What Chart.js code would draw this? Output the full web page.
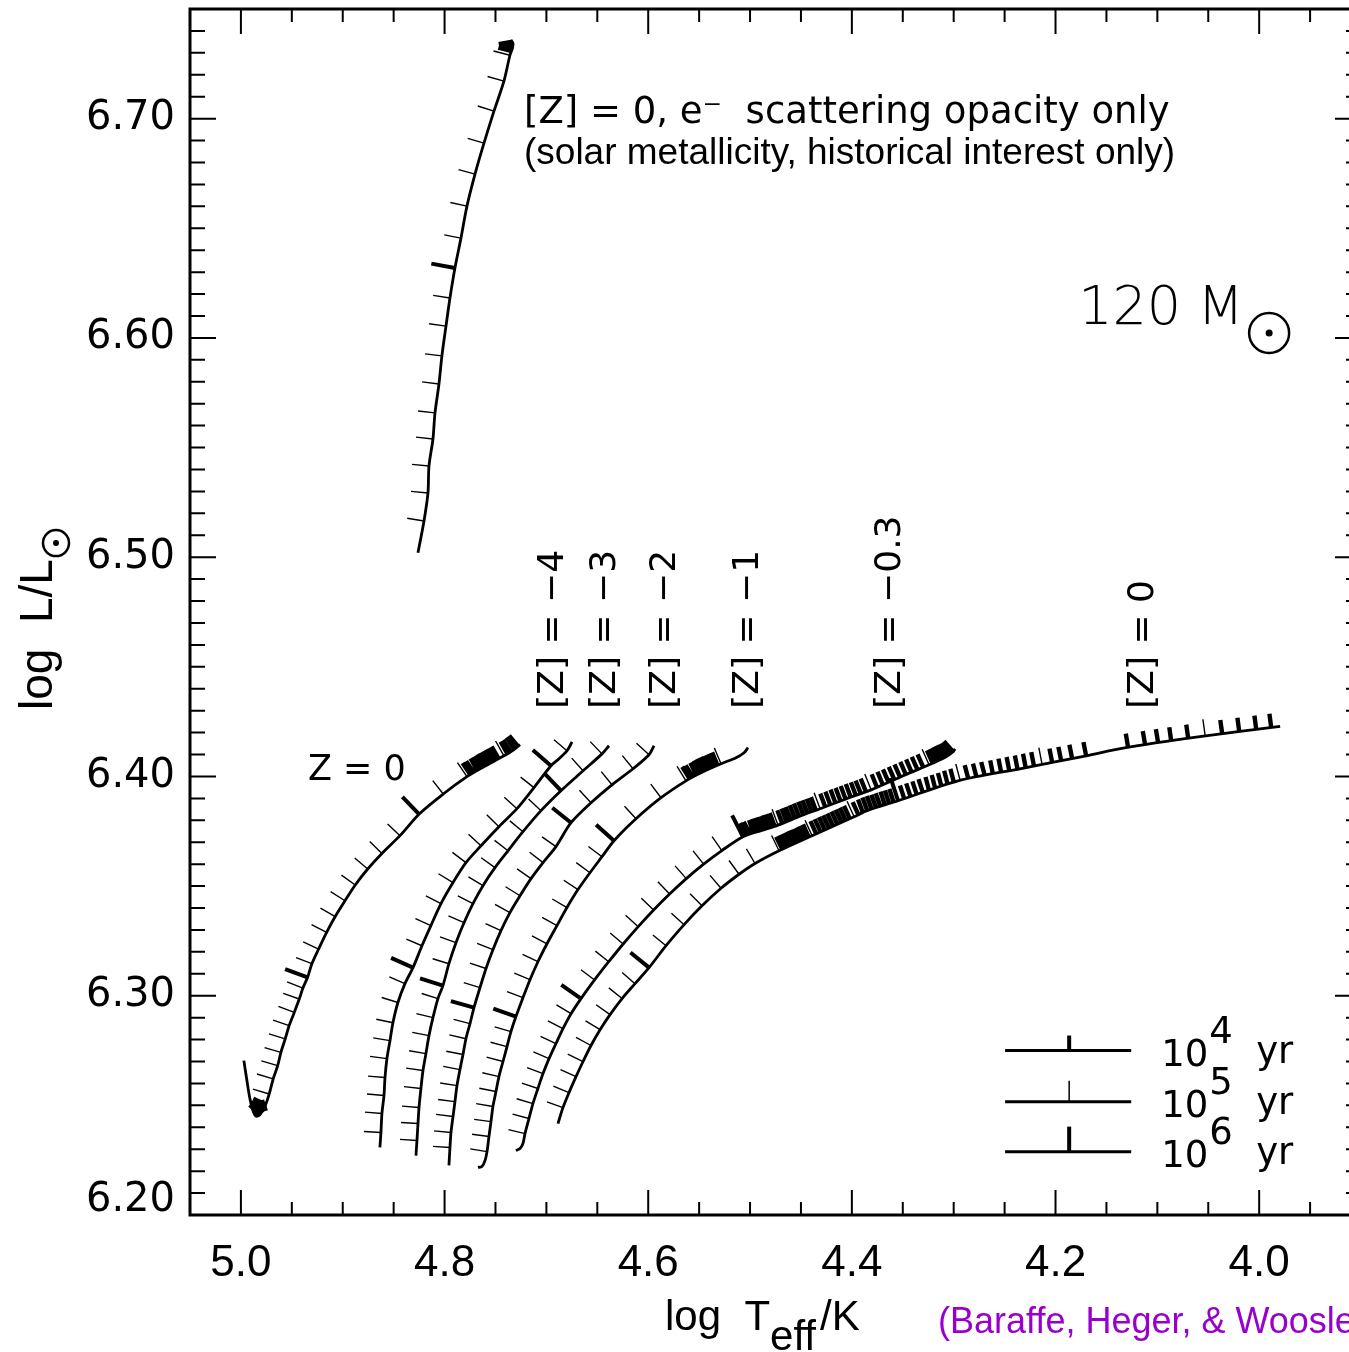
<!DOCTYPE html>
<html lang="en">
  <head>
    <meta charset="UTF-8" />
    <title>120 Msun evolutionary tracks</title>
    <script src="https://cdn.jsdelivr.net/npm/chart.js"></script>
    <style>
      html, body { margin: 0; padding: 0; background: #fff; overflow: hidden; }
      #box { position: relative; width: 1400px; height: 1352px; }
    </style>
  </head>
  <body>
    <div id="box"><canvas id="hrd"></canvas></div>
    <script>
      // axis ranges and tick labels
      const tMin = 3.90, tMax = 5.05, lMin = 6.20, lMax = 6.75;
      const xLabels = ["5.0", "4.8", "4.6", "4.4", "4.2", "4.0"];
      const yLabels = ["6.20", "6.30", "6.40", "6.50", "6.60", "6.70"];

      // [Z] = 0 with e- scattering opacity only
      const escLine = [[4.8261,6.5020],[4.8202,6.5165],[4.8163,6.5293],[4.8153,6.5416],[4.8114,6.5539],[4.8094,6.5658],[4.8055,6.5790],[4.8026,6.5918],[4.7986,6.6054],[4.7947,6.6182],[4.7898,6.6319],[4.7839,6.6455],[4.7780,6.6601],[4.7701,6.6747],[4.7613,6.6888],[4.7515,6.7034],[4.7417,6.7171],[4.7358,6.7289],[4.7333,6.7321],[4.7328,6.7344],[4.7348,6.7358]];
      const escT5 = [[4.8202,6.5165],[4.8163,6.5293],[4.8153,6.5416],[4.8114,6.5539],[4.8094,6.5658],[4.8055,6.5790],[4.8026,6.5918],[4.7986,6.6054],[4.7947,6.6182],[4.7839,6.6455],[4.7780,6.6601],[4.7701,6.6747],[4.7613,6.6888],[4.7515,6.7034],[4.7417,6.7171],[4.7358,6.7289]];
      const escT6 = [[4.7898,6.6319]];
      const escT4 = [[4.7338,6.7308],[4.7333,6.7317],[4.7328,6.7326],[4.7328,6.7335],[4.7328,6.7344],[4.7333,6.7351]];

      // Z = 0 (primordial)
      const popLine = [[4.9971,6.2704],[4.9941,6.2613],[4.9912,6.2531],[4.9882,6.2476],[4.9853,6.2451],[4.9813,6.2458],[4.9764,6.2495],[4.9722,6.2552],[4.9683,6.2621],[4.9639,6.2681],[4.9607,6.2742],[4.9565,6.2803],[4.9526,6.2864],[4.9476,6.2924],[4.9427,6.2985],[4.9391,6.3035],[4.9345,6.3084],[4.9303,6.3146],[4.9237,6.3213],[4.9158,6.3289],[4.9074,6.3361],[4.8978,6.3433],[4.8877,6.3505],[4.8755,6.3578],[4.8615,6.3649],[4.8438,6.3730],[4.8251,6.3828],[4.8013,6.3920],[4.7780,6.3999],[4.7623,6.4042],[4.7417,6.4094],[4.7328,6.4119],[4.7259,6.4145]];
      const popT5 = [[4.9722,6.2552],[4.9683,6.2621],[4.9639,6.2681],[4.9607,6.2742],[4.9565,6.2803],[4.9526,6.2864],[4.9476,6.2924],[4.9427,6.2985],[4.9391,6.3035],[4.9303,6.3146],[4.9237,6.3213],[4.9158,6.3289],[4.9074,6.3361],[4.8978,6.3433],[4.8877,6.3505],[4.8755,6.3578],[4.8615,6.3649],[4.8438,6.3730],[4.8013,6.3920],[4.7780,6.3999],[4.7417,6.4094]];
      const popT6 = [[4.9345,6.3084],[4.8251,6.3828]];
      const popT4 = [[4.9902,6.2504],[4.9887,6.2485],[4.9872,6.2467],[4.9853,6.2451],[4.9833,6.2454],[4.9813,6.2458],[4.9794,6.2472],[4.9774,6.2485],[4.9754,6.2504],
        [4.7746,6.4008],[4.7711,6.4017],[4.7677,6.4027],[4.7642,6.4036],[4.7608,6.4046],[4.7574,6.4054],[4.7539,6.4063],[4.7505,6.4072],[4.7470,6.4081],[4.7382,6.4103],[4.7348,6.4113],[4.7313,6.4125],[4.7279,6.4137]];

      // [Z] = -4
      const zm4Line = [[4.8635,6.2308],[4.8625,6.2376],[4.8615,6.2463],[4.8595,6.2545],[4.8585,6.2627],[4.8566,6.2713],[4.8536,6.2795],[4.8507,6.2877],[4.8458,6.2969],[4.8389,6.3055],[4.8310,6.3128],[4.8222,6.3228],[4.8134,6.3320],[4.8035,6.3420],[4.7917,6.3516],[4.7790,6.3607],[4.7642,6.3684],[4.7466,6.3771],[4.7289,6.3853],[4.7122,6.3949],[4.6955,6.4049],[4.6876,6.4081],[4.6798,6.4117],[4.6768,6.4140],[4.6749,6.4158]];
      const zm4T5 = [[4.8625,6.2376],[4.8615,6.2463],[4.8595,6.2545],[4.8585,6.2627],[4.8566,6.2713],[4.8536,6.2795],[4.8507,6.2877],[4.8458,6.2969],[4.8389,6.3055],[4.8222,6.3228],[4.8134,6.3320],[4.8035,6.3420],[4.7917,6.3516],[4.7790,6.3607],[4.7642,6.3684],[4.7466,6.3771],[4.7289,6.3853],[4.7122,6.3949],[4.6798,6.4117]];
      const zm4T6 = [[4.8310,6.3128],[4.6955,6.4049]];

      // [Z] = -3
      const zm3Line = [[4.8281,6.2271],[4.8271,6.2340],[4.8261,6.2417],[4.8251,6.2490],[4.8232,6.2577],[4.8212,6.2659],[4.8183,6.2736],[4.8153,6.2818],[4.8114,6.2900],[4.8065,6.2987],[4.8016,6.3046],[4.7957,6.3146],[4.7888,6.3242],[4.7809,6.3333],[4.7721,6.3420],[4.7623,6.3502],[4.7505,6.3584],[4.7377,6.3661],[4.7230,6.3748],[4.7053,6.3844],[4.6857,6.3935],[4.6640,6.4026],[4.6454,6.4103],[4.6385,6.4140]];
      const zm3T5 = [[4.8271,6.2340],[4.8261,6.2417],[4.8251,6.2490],[4.8232,6.2577],[4.8212,6.2659],[4.8183,6.2736],[4.8153,6.2818],[4.8114,6.2900],[4.8065,6.2987],[4.7957,6.3146],[4.7888,6.3242],[4.7809,6.3333],[4.7721,6.3420],[4.7623,6.3502],[4.7505,6.3584],[4.7377,6.3661],[4.7230,6.3748],[4.7053,6.3844],[4.6640,6.4026],[4.6454,6.4103]];
      const zm3T6 = [[4.8016,6.3046],[4.6857,6.3935]];

      // [Z] = -2
      const zm2Line = [[4.7957,6.2226],[4.7947,6.2308],[4.7937,6.2376],[4.7917,6.2449],[4.7898,6.2517],[4.7878,6.2590],[4.7849,6.2663],[4.7819,6.2732],[4.7790,6.2804],[4.7750,6.2873],[4.7711,6.2946],[4.7652,6.3037],[4.7593,6.3124],[4.7525,6.3210],[4.7446,6.3297],[4.7358,6.3379],[4.7259,6.3456],[4.7151,6.3534],[4.7033,6.3607],[4.6906,6.3680],[4.6758,6.3789],[4.6562,6.3880],[4.6356,6.3962],[4.6149,6.4035],[4.5992,6.4099],[4.5943,6.4140]];
      const zm2T5 = [[4.7947,6.2308],[4.7937,6.2376],[4.7917,6.2449],[4.7898,6.2517],[4.7878,6.2590],[4.7849,6.2663],[4.7819,6.2732],[4.7790,6.2804],[4.7750,6.2873],[4.7652,6.3037],[4.7593,6.3124],[4.7525,6.3210],[4.7446,6.3297],[4.7358,6.3379],[4.7259,6.3456],[4.7151,6.3534],[4.7033,6.3607],[4.6906,6.3680],[4.6562,6.3880],[4.6356,6.3962],[4.6149,6.4035],[4.5992,6.4099]];
      const zm2T6 = [[4.7711,6.2946],[4.6758,6.3789]];

      // [Z] = -1
      const zm1Line = [[4.7672,6.2217],[4.7633,6.2221],[4.7603,6.2248],[4.7583,6.2289],[4.7564,6.2358],[4.7544,6.2426],[4.7525,6.2495],[4.7495,6.2563],[4.7466,6.2631],[4.7426,6.2700],[4.7387,6.2768],[4.7348,6.2836],[4.7299,6.2905],[4.7230,6.2991],[4.7161,6.3073],[4.7083,6.3155],[4.6994,6.3237],[4.6896,6.3320],[4.6798,6.3402],[4.6690,6.3484],[4.6572,6.3561],[4.6454,6.3634],[4.6336,6.3707],[4.6120,6.3807],[4.5874,6.3903],[4.5629,6.3980],[4.5462,6.4021],[4.5285,6.4058],[4.5138,6.4085],[4.5059,6.4108],[4.5020,6.4131]];
      const zm1T5 = [[4.7583,6.2289],[4.7564,6.2358],[4.7544,6.2426],[4.7525,6.2495],[4.7495,6.2563],[4.7466,6.2631],[4.7426,6.2700],[4.7387,6.2768],[4.7348,6.2836],[4.7230,6.2991],[4.7161,6.3073],[4.7083,6.3155],[4.6994,6.3237],[4.6896,6.3320],[4.6798,6.3402],[4.6690,6.3484],[4.6572,6.3561],[4.6454,6.3634],[4.6120,6.3807],[4.5874,6.3903],[4.5629,6.3980],[4.5285,6.4058]];
      const zm1T6 = [[4.7299,6.2905],[4.6336,6.3707]];
      const zm1T4 = [[4.5594,6.3990],[4.5560,6.3996],[4.5526,6.4005],[4.5491,6.4015],[4.5457,6.4024],[4.5422,6.4031],[4.5388,6.4037],[4.5354,6.4044],[4.5319,6.4051]];

      // [Z] = -0.3
      const zm03Line = [[4.7299,6.2294],[4.7259,6.2303],[4.7230,6.2326],[4.7210,6.2371],[4.7171,6.2440],[4.7132,6.2508],[4.7083,6.2577],[4.7033,6.2645],[4.6974,6.2713],[4.6906,6.2782],[4.6837,6.2850],[4.6758,6.2918],[4.6660,6.2987],[4.6527,6.3072],[4.6388,6.3155],[4.6246,6.3236],[4.6098,6.3315],[4.5947,6.3391],[4.5790,6.3464],[4.5626,6.3534],[4.5456,6.3600],[4.5277,6.3662],[4.5069,6.3725],[4.4892,6.3753],[4.4725,6.3778],[4.4499,6.3821],[4.4312,6.3853],[4.4057,6.3898],[4.3811,6.3939],[4.3517,6.3999],[4.3242,6.4053],[4.3075,6.4090],[4.3006,6.4113],[4.2986,6.4126]];
      const zm03T5 = [[4.7210,6.2371],[4.7171,6.2440],[4.7132,6.2508],[4.7083,6.2577],[4.7033,6.2645],[4.6974,6.2713],[4.6906,6.2782],[4.6837,6.2850],[4.6758,6.2918],[4.6527,6.3072],[4.6388,6.3155],[4.6246,6.3236],[4.6098,6.3315],[4.5947,6.3391],[4.5790,6.3464],[4.5626,6.3534],[4.5456,6.3600],[4.5277,6.3662],[4.4725,6.3778],[4.4312,6.3853],[4.3811,6.3939],[4.3242,6.4053]];
      const zm03T6 = [[4.6660,6.2987],[4.5069,6.3725]];
      const zm03T4 = [[4.5034,6.3731],[4.5000,6.3736],[4.4966,6.3741],[4.4931,6.3747],[4.4897,6.3752],[4.4862,6.3757],[4.4828,6.3763],[4.4794,6.3768],[4.4759,6.3773],
        [4.4684,6.3786],[4.4642,6.3794],[4.4601,6.3801],[4.4560,6.3809],[4.4519,6.3817],[4.4477,6.3825],[4.4436,6.3832],[4.4395,6.3839],[4.4354,6.3846],
        [4.4262,6.3862],[4.4212,6.3871],[4.4162,6.3880],[4.4112,6.3888],[4.4062,6.3897],[4.4012,6.3906],[4.3962,6.3914],[4.3912,6.3922],[4.3862,6.3931],
        [4.3754,6.3951],[4.3697,6.3962],[4.3640,6.3974],[4.3583,6.3985],[4.3527,6.3997],[4.3470,6.4008],[4.3413,6.4019],[4.3356,6.4031],[4.3299,6.4042],
        [4.3207,6.4061],[4.3173,6.4069],[4.3139,6.4077],[4.3104,6.4085],[4.3070,6.4092],[4.3035,6.4101],[4.3006,6.4113]];

      // [Z] = 0 (solar)
      const sunLine = [[4.6886,6.2417],[4.6837,6.2490],[4.6778,6.2558],[4.6709,6.2631],[4.6640,6.2700],[4.6562,6.2773],[4.6473,6.2845],[4.6375,6.2914],[4.6257,6.2987],[4.6130,6.3055],[4.5992,6.3128],[4.5825,6.3228],[4.5648,6.3324],[4.5472,6.3410],[4.5285,6.3490],[4.5108,6.3554],[4.4951,6.3603],[4.4715,6.3661],[4.4391,6.3730],[4.3978,6.3816],[4.3851,6.3844],[4.3546,6.3889],[4.2957,6.3980],[4.2338,6.4036],[4.1699,6.4094],[4.1336,6.4129],[4.0619,6.4179],[3.9794,6.4228]];
      const sunT5 = [[4.6837,6.2490],[4.6778,6.2558],[4.6709,6.2631],[4.6640,6.2700],[4.6562,6.2773],[4.6473,6.2845],[4.6375,6.2914],[4.6257,6.2987],[4.6130,6.3055],[4.5825,6.3228],[4.5648,6.3324],[4.5472,6.3410],[4.5285,6.3490],[4.5108,6.3554],[4.4951,6.3603],[4.4715,6.3661],[4.4391,6.3730],[4.3978,6.3816],[4.2937,6.3982],[4.2132,6.4055],[4.0530,6.4184]];
      const sunT6 = [[4.5992,6.3128],[4.3546,6.3889]];
      const sunT4 = [[4.4683,6.3668],[4.4650,6.3675],[4.4618,6.3682],[4.4585,6.3689],[4.4553,6.3696],[4.4521,6.3702],[4.4488,6.3709],[4.4456,6.3716],[4.4423,6.3723],
        [4.4350,6.3738],[4.4308,6.3747],[4.4267,6.3756],[4.4226,6.3764],[4.4185,6.3773],[4.4143,6.3782],[4.4102,6.3791],[4.4061,6.3799],[4.4020,6.3808],
        [4.3935,6.3825],[4.3892,6.3835],[4.3849,6.3844],[4.3806,6.3851],[4.3762,6.3857],[4.3719,6.3863],[4.3676,6.3870],[4.3633,6.3876],[4.3589,6.3882],
        [4.3485,6.3898],[4.3424,6.3908],[4.3363,6.3917],[4.3303,6.3927],[4.3242,6.3936],[4.3181,6.3945],[4.3120,6.3954],[4.3059,6.3964],[4.2998,6.3973],
        [4.2857,6.3990],[4.2776,6.3997],[4.2695,6.4004],[4.2615,6.4011],[4.2534,6.4019],[4.2454,6.4026],[4.2373,6.4033],[4.2293,6.4041],[4.2212,6.4048],
        [4.2033,6.4064],[4.1945,6.4072],[4.1837,6.4082],[4.1699,6.4094],
        [4.1287,6.4132],[4.1120,6.4144],[4.0992,6.4153],[4.0864,6.4161],[4.0697,6.4173],
        [4.0363,6.4194],[4.0196,6.4204],[4.0029,6.4214],[3.9882,6.4223]];

      const zLabels = ["[Z] = \u22124", "[Z] = \u22123", "[Z] = \u22122", "[Z] = \u22121", "[Z] = \u22120.3", "[Z] = 0"];
      const zLabelT = [4.6925, 4.6415, 4.5825, 4.5010, 4.3615, 4.1130];
      const legendYears = ["4", "5", "6"];

      const tracks = [
        { line: escLine, t4: escT4, t5: escT5, t6: escT6 },
        { line: popLine, t4: popT4, t5: popT5, t6: popT6 },
        { line: zm4Line, t4: [], t5: zm4T5, t6: zm4T6 },
        { line: zm3Line, t4: [], t5: zm3T5, t6: zm3T6 },
        { line: zm2Line, t4: [], t5: zm2T5, t6: zm2T6 },
        { line: zm1Line, t4: zm1T4, t5: zm1T5, t6: zm1T6 },
        { line: zm03Line, t4: zm03T4, t5: zm03T5, t6: zm03T6 },
        { line: sunLine, t4: sunT4, t5: sunT5, t6: sunT6 },
      ];

      const sameNum = (v, s) => Math.abs(v - parseFloat(s)) < 1e-6;

      // tangent of the drawn track near a pixel position (smoothed over neighbours)
      function tangentAt(path, px, py) {
        let best = Infinity, k0 = 0, u0 = 0;
        for (let k = 0; k < path.length - 1; k++) {
          const ax = path[k].x, ay = path[k].y;
          const sx = path[k + 1].x - ax, sy = path[k + 1].y - ay;
          const s2 = sx * sx + sy * sy;
          if (!s2) continue;
          let u = ((px - ax) * sx + (py - ay) * sy) / s2;
          u = Math.max(0, Math.min(1, u));
          const dx = ax + u * sx - px, dy = ay + u * sy - py;
          const d = dx * dx + dy * dy;
          if (d < best - 1e-9) { best = d; k0 = k; u0 = u; }
        }
        const n = path.length - 1;
        const a = path[Math.max(0, u0 < 0.5 ? k0 - 1 : k0)];
        const b = path[Math.min(n, u0 < 0.5 ? k0 + 1 : k0 + 2)];
        const tx = b.x - a.x, ty = b.y - a.y;
        const m = Math.hypot(tx, ty) || 1;
        return [tx / m, ty / m];
      }

      // time marks: short strokes on the left side of the direction of evolution
      function drawMarks(chart, path, pts, len, width) {
        const ctx = chart.ctx, xs = chart.scales.x, ys = chart.scales.y;
        ctx.lineWidth = width;
        ctx.beginPath();
        for (const [t, l] of pts) {
          const px = xs.getPixelForValue(t), py = ys.getPixelForValue(l);
          const [tx, ty] = tangentAt(path, px, py);
          ctx.moveTo(px, py);
          ctx.lineTo(px + ty * len, py - tx * len);
        }
        ctx.stroke();
      }

      function sunSymbol(ctx, x, y, r, lw, dot) {
        ctx.lineWidth = lw;
        ctx.beginPath();
        ctx.arc(x, y, r, 0, Math.PI * 2);
        ctx.stroke();
        ctx.beginPath();
        ctx.arc(x, y, dot, 0, Math.PI * 2);
        ctx.fill();
      }

      const decor = {
        id: "decor",
        afterDatasetsDraw(chart) {
          const ctx = chart.ctx;
          ctx.save();
          ctx.strokeStyle = "#000";
          ctx.lineCap = "butt";
          tracks.forEach((tr, i) => {
            const path = chart.getDatasetMeta(i).data;
            drawMarks(chart, path, tr.t4, 14, 4.4);
            drawMarks(chart, path, tr.t5, 17, 1.4);
            drawMarks(chart, path, tr.t6, 24, 4);
          });
          ctx.restore();
        },
        afterDraw(chart) {
          const ctx = chart.ctx, a = chart.chartArea;
          const xs = chart.scales.x, ys = chart.scales.y;
          const X = (t) => xs.getPixelForValue(t), Y = (l) => ys.getPixelForValue(l);
          ctx.save();
          ctx.strokeStyle = "#000";
          ctx.fillStyle = "#000";

          // frame with inward ticks on all four sides
          ctx.lineWidth = 3;
          ctx.strokeRect(a.left, a.top, a.right - a.left, a.bottom - a.top);
          ctx.lineWidth = 2;
          ctx.beginPath();
          xs.ticks.forEach((tk) => {
            const p = X(tk.value);
            const len = xLabels.some((s) => sameNum(tk.value, s)) ? 25 : 13;
            ctx.moveTo(p, a.top); ctx.lineTo(p, a.top + len);
            ctx.moveTo(p, a.bottom); ctx.lineTo(p, a.bottom - len);
          });
          ys.ticks.forEach((tk) => {
            const p = Y(tk.value);
            const len = yLabels.some((s) => sameNum(tk.value, s)) ? 26 : 15;
            ctx.moveTo(a.left, p); ctx.lineTo(a.left + len, p);
            ctx.moveTo(a.right, p); ctx.lineTo(a.right - len, p);
          });
          ctx.stroke();

          // y tick labels
          ctx.font = '40px "DejaVu Sans"';
          ctx.textAlign = "right";
          ctx.textBaseline = "middle";
          ys.ticks.forEach((tk) => {
            const lab = yLabels.find((s) => sameNum(tk.value, s));
            if (!lab) return;
            let p = Y(tk.value);
            if (sameNum(tk.value, yLabels[0])) p -= 14;
            ctx.fillText(lab, a.left - 15, p);
          });

          // axis titles
          ctx.textAlign = "left";
          ctx.textBaseline = "alphabetic";
          ctx.font = '42px "Liberation Sans"';
          ctx.fillText("log  T", 665, 1330);
          let w = ctx.measureText("log  T").width;
          ctx.fillText("eff", 665 + w, 1350);
          w += ctx.measureText("eff").width;
          ctx.fillText("/K", 665 + w + 4, 1330);

          ctx.save();
          ctx.translate(52, 710);
          ctx.rotate(-Math.PI / 2);
          ctx.font = '46px "Liberation Sans"';
          ctx.fillText("log  L/L", 0, 0);
          const wl = ctx.measureText("log  L/L").width;
          sunSymbol(ctx, wl + 16, 4, 13, 2.5, 3);
          ctx.restore();

          ctx.fillStyle = "#9900cc";
          ctx.font = '36px "Liberation Sans"';
          ctx.fillText("(Baraffe, Heger, & Woosley 2001)", 938, 1333);
          ctx.fillStyle = "#000";

          // annotations inside the plot
          ctx.font = '37px "DejaVu Sans"';
          ctx.fillText("[Z] = 0, e\u207B  scattering opacity only", X(4.722), Y(6.698));
          ctx.font = '37px "Liberation Sans"';
          ctx.fillText("(solar metallicity, historical interest only)", X(4.722), Y(6.6793));

          ctx.font = '200 54px "DejaVu Sans"';
          ctx.fillText("120", X(4.1778), Y(6.6063));
          ctx.fillText("M", X(4.1778) + ctx.measureText("120").width + 16, Y(6.6063));
          sunSymbol(ctx, X(4.1778) + 191, Y(6.6063) + 9, 20, 2.5, 3.5);

          ctx.font = '35px "DejaVu Sans"';
          ctx.fillText("Z = 0", X(4.9342), Y(6.3985));

          ctx.font = '36px "DejaVu Sans"';
          ctx.textBaseline = "middle";
          zLabels.forEach((s, i) => {
            ctx.save();
            ctx.translate(X(zLabelT[i]), Y(6.4309));
            ctx.rotate(-Math.PI / 2);
            ctx.fillText(s, 0, 0);
            ctx.restore();
          });

          // legend of the time marks
          const legY = [Y(6.275), Y(6.2517), Y(6.2289)];
          const marks = [[15, 4], [21, 1.5], [25, 4]];
          const x0 = X(4.2495), x1 = X(4.1257), xm = X(4.1866);
          legY.forEach((yy, i) => {
            ctx.lineWidth = 3;
            ctx.beginPath();
            ctx.moveTo(x0, yy); ctx.lineTo(x1, yy);
            ctx.stroke();
            ctx.lineWidth = marks[i][1];
            ctx.beginPath();
            ctx.moveTo(xm, yy); ctx.lineTo(xm, yy - marks[i][0]);
            ctx.stroke();
            ctx.textBaseline = "alphabetic";
            ctx.font = '37px "DejaVu Sans"';
            ctx.fillText("10", x1 + 30, yy + 15);
            ctx.fillText(legendYears[i], x1 + 78, yy - 8);
            ctx.fillText("yr", x1 + 125, yy + 12);
          });
          ctx.restore();
        },
      };

      new Chart(document.getElementById("hrd"), {
        type: "scatter",
        data: {
          datasets: tracks.map((tr) => ({
            data: tr.line.map(([x, y]) => ({ x, y })),
            showLine: true,
            borderColor: "#000",
            borderWidth: 2.8,
            pointRadius: 0,
            tension: 0.3,
          })),
        },
        options: {
          responsive: true,
          maintainAspectRatio: false,
          devicePixelRatio: 1,
          animation: false,
          layout: { padding: { top: 9, right: 39, left: 0, bottom: 0 } },
          plugins: { legend: { display: false }, tooltip: { enabled: false } },
          scales: {
            x: {
              type: "linear",
              reverse: true,
              min: tMin,
              max: tMax,
              grid: { display: false, drawTicks: false },
              border: { display: false },
              ticks: {
                stepSize: 0.05,
                maxTicksLimit: 1000,
                autoSkip: false,
                maxRotation: 0,
                padding: 22,
                color: "#000",
                font: { family: "Liberation Sans", size: 44 },
                callback: (v) => xLabels.find((s) => sameNum(v, s)) || "",
              },
              afterFit: (s) => { s.height = 137; },
            },
            y: {
              type: "linear",
              min: lMin,
              max: lMax,
              grid: { display: false, drawTicks: false },
              border: { display: false },
              ticks: { stepSize: 0.01, maxTicksLimit: 1000, autoSkip: false, display: false },
              afterFit: (s) => { s.width = 190; },
            },
          },
        },
        plugins: [decor],
      });
    </script>
  </body>
</html>
